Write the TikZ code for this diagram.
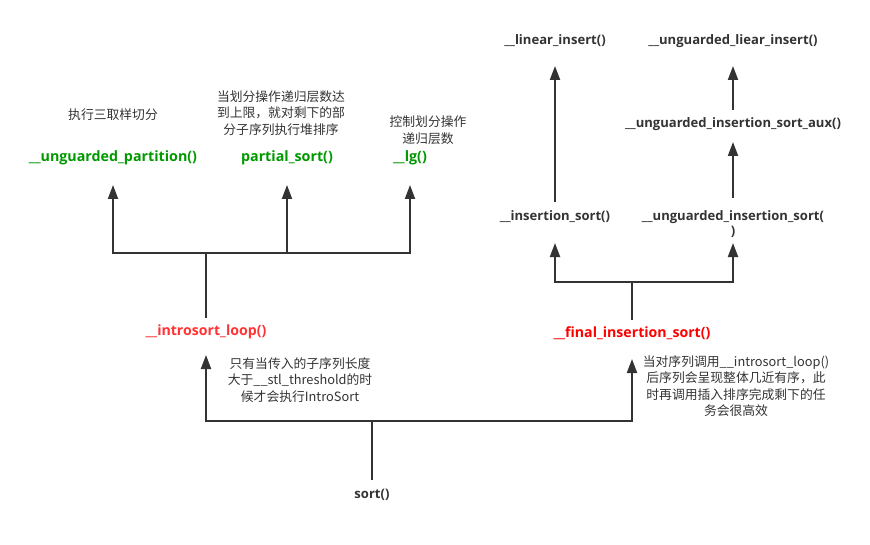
\documentclass[tikz,border=0pt]{standalone}
\usepackage{fontspec}
\setmainfont{Noto Sans CJK SC}
\newfontfamily\lblfont{Open Sans}
\usetikzlibrary{arrows.meta}
\definecolor{ln}{RGB}{51,51,51}
\definecolor{txt}{RGB}{51,51,51}
\definecolor{grn}{RGB}{0,153,0}
\definecolor{rd1}{RGB}{255,51,51}
\definecolor{rd2}{RGB}{255,0,0}
\tikzset{
  conn/.style={draw=ln, line width=1.5pt},
  arr/.style={conn, -{Triangle[length=10.5pt,width=7.5pt]}},
  glbl/.style={inner sep=0pt, text=grn, font=\lblfont\bfseries\fontsize{10.7}{13}\selectfont},
  rlbl/.style={inner sep=0pt, font=\lblfont\bfseries\fontsize{10.6}{13}\selectfont},
  blbl/.style={inner sep=0pt, text=txt, font=\lblfont\bfseries\fontsize{9.8}{11.5}\selectfont, align=center},
  note/.style={inner sep=0pt, text=txt, align=center, font=\fontsize{9.6}{12.4}\selectfont},
}
\begin{document}
\begin{tikzpicture}[x=0.75pt,y=-0.75pt]
\useasboundingbox (0,0) rectangle (870,545);

% left branch labels
\node[glbl] (part) at (113,158) {\_\_unguarded\_partition()};
\node[glbl] (psort) at (287,158) {partial\_sort()};
\node[glbl] (lg) at (410,158) {\_\_lg()};
\node[note] (npart) at (113,115) {执行三取样切分};
\node[note] (npsort) at (281,113) {当划分操作递归层数达\\到上限，就对剩下的部\\分子序列执行堆排序};
\node[note] (nlg) at (428,130) {控制划分操作\\递归层数};

\node[rlbl, text=rd1] (intro) at (206,332) {\_\_introsort\_loop()};
\node[note] (nintro) at (300,380) {只有当传入的子序列长度\\大于\_\_stl\_threshold的时\\候才会执行IntroSort};

\node[blbl] (sort) at (372,495) {sort()};

% right branch
\node[rlbl, text=rd2] (final) at (632,333) {\_\_final\_insertion\_sort()};
\node[note] (nfinal) at (736,386) {当对序列调用\_\_introsort\_loop()\\后序列会呈现整体几近有序，此\\时再调用插入排序完成剩下的任\\务会很高效};

\node[blbl] (ins) at (555,217) {\_\_insertion\_sort()};
\node[blbl] (uins) at (733,224) {\_\_unguarded\_insertion\_sort(\\)};
\node[blbl] (aux) at (733,124) {\_\_unguarded\_insertion\_sort\_aux()};
\node[blbl] (lin) at (555,41) {\_\_linear\_insert()};
\node[blbl] (ulin) at (733,41) {\_\_unguarded\_liear\_insert()};

% coordinates
\coordinate (j1) at (206,253);
\coordinate (t1) at (0,185);
\coordinate (j2) at (372,421);
\coordinate (t2) at (0,355);
\coordinate (t3) at (0,359);
\coordinate (j3) at (632,282);
\coordinate (t4) at (0,243);

% left tree
\draw[conn] (intro.north |- 0,318) -- (j1);
\draw[arr] (j1) -| (part |- t1);
\draw[arr] (j1) -| (psort |- t1);
\draw[arr] (j1) -| (lg |- t1);

% sort
\draw[conn] (sort.north |- 0,480) -- (j2);
\draw[arr] (j2) -| (intro |- t2);
\draw[arr] (j2) -| (final |- t3);

% right tree
\draw[conn] (final.north |- 0,320) -- (j3);
\draw[arr] (j3) -| (ins |- t4);
\draw[arr] (j3) -| (uins |- t4);
\draw[arr] (ins.north |- 0,202) -- (lin |- 0,66);
\draw[arr] (uins.north |- 0,198) -- (aux |- 0,142);
\draw[arr] (aux.north |- 0,110) -- (ulin |- 0,66);
\end{tikzpicture}
\end{document}
